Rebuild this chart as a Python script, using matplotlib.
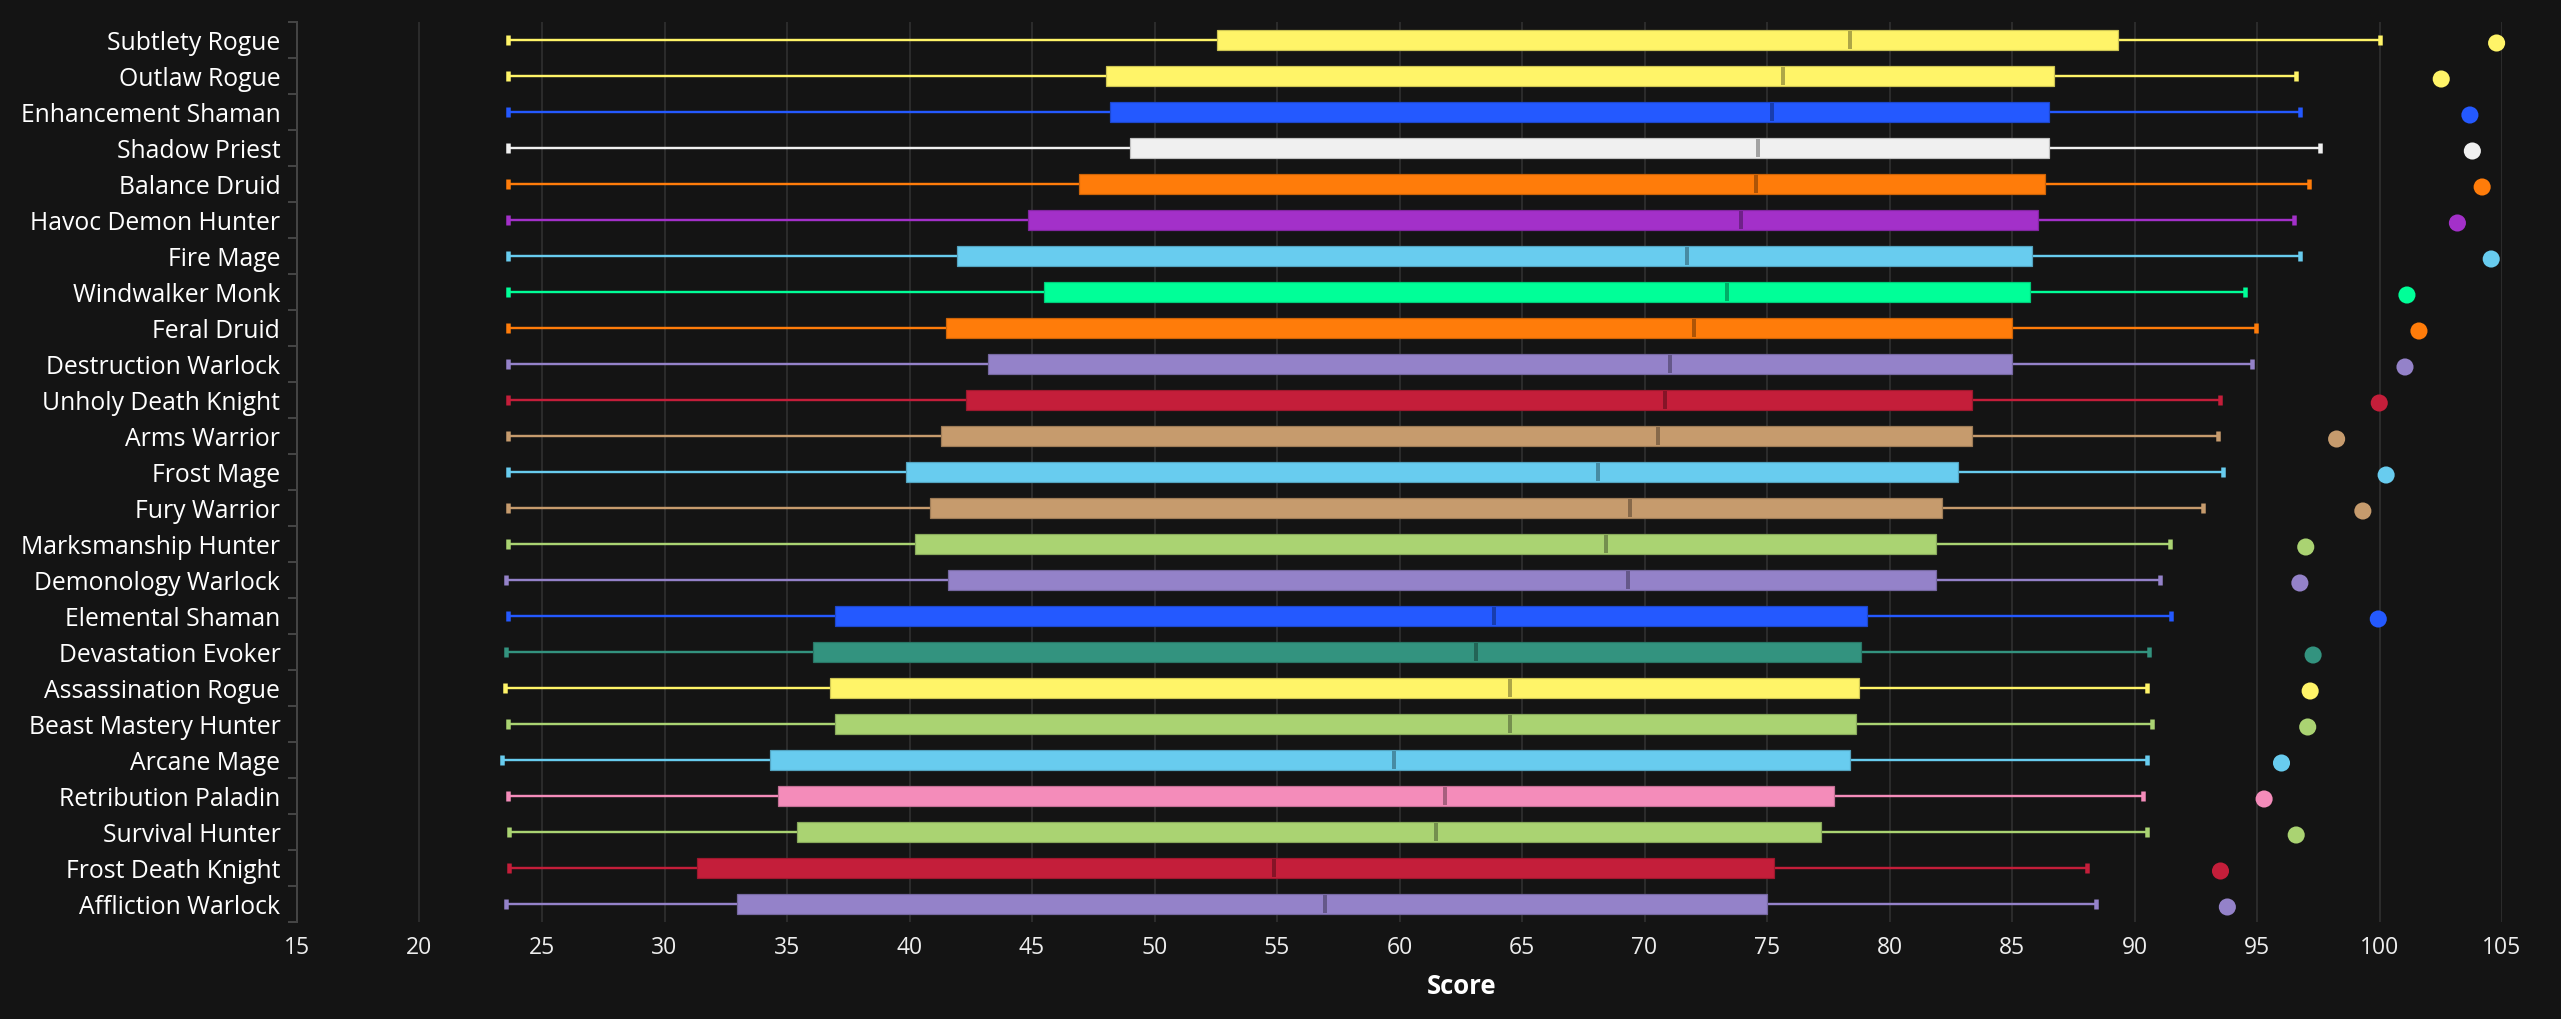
import matplotlib
matplotlib.use("Agg")
import matplotlib.pyplot as plt
import matplotlib.transforms as mtransforms
import numpy as np
from matplotlib.colors import to_rgb

specs = ["Subtlety Rogue", "Outlaw Rogue", "Enhancement Shaman", "Shadow Priest",
         "Balance Druid", "Havoc Demon Hunter", "Fire Mage", "Windwalker Monk",
         "Feral Druid", "Destruction Warlock", "Unholy Death Knight", "Arms Warrior",
         "Frost Mage", "Fury Warrior", "Marksmanship Hunter", "Demonology Warlock",
         "Elemental Shaman", "Devastation Evoker", "Assassination Rogue",
         "Beast Mastery Hunter", "Arcane Mage", "Retribution Paladin",
         "Survival Hunter", "Frost Death Knight", "Affliction Warlock"]
classes = ["rogue", "rogue", "shaman", "priest", "druid", "dh", "mage", "monk",
           "druid", "warlock", "dk", "warrior", "mage", "warrior", "hunter", "warlock",
           "shaman", "evoker", "rogue", "hunter", "mage", "paladin", "hunter", "dk",
           "warlock"]
low = [23.62, 23.62, 23.62, 23.62, 23.62, 23.62, 23.62, 23.62, 23.62, 23.62,
       23.62, 23.62, 23.62, 23.62, 23.62, 23.52, 23.62, 23.55, 23.50, 23.62,
       23.35, 23.62, 23.64, 23.64, 23.52]
q1 = [52.54, 48.01, 48.19, 49.00, 46.92, 44.84, 41.93, 45.47, 41.48, 43.21,
      42.30, 41.29, 39.85, 40.85, 40.22, 41.57, 36.96, 36.06, 36.77, 36.96,
      34.30, 34.65, 35.41, 31.33, 32.96]
median = [78.39, 75.65, 75.20, 74.65, 74.56, 73.94, 71.75, 73.38, 72.02, 71.03,
          70.84, 70.56, 68.12, 69.40, 68.41, 69.32, 63.87, 63.14, 64.51, 64.51,
          59.78, 61.87, 61.51, 54.89, 56.97]
q3 = [89.34, 86.71, 86.53, 86.53, 86.35, 86.08, 85.80, 85.72, 84.99, 84.99,
      83.35, 83.35, 82.81, 82.16, 81.91, 81.91, 79.08, 78.82, 78.74, 78.65,
      78.37, 77.74, 77.19, 75.29, 75.01]
high = [100.03, 96.59, 96.77, 97.58, 97.13, 96.50, 96.77, 94.50, 94.97, 94.78,
        93.49, 93.41, 93.61, 92.78, 91.43, 91.06, 91.51, 90.60, 90.52, 90.70,
        90.52, 90.35, 90.52, 88.07, 88.43]
best = [104.78, 102.52, 103.69, 103.79, 104.19, 103.18, 104.56, 101.12, 101.61,
        101.04, 99.99, 98.25, 100.27, 99.32, 96.99, 96.75, 99.95, 97.29, 97.17,
        97.07, 96.00, 95.29, 96.60, 93.51, 93.79]
xticks = list(range(15, 106, 5))

class_colors = {
    "rogue": "#FFF468", "shaman": "#2459FF", "priest": "#F0F0F0",
    "druid": "#FF7C0A", "dh": "#A330C9", "mage": "#68CCEF", "monk": "#00FF98",
    "warlock": "#9482C9", "dk": "#C41E3A", "warrior": "#C69B6D",
    "hunter": "#AAD372", "evoker": "#33937F", "paladin": "#F48CBA",
}

BG = "#141414"
PX = 72 / 100.0  # points per pixel at dpi 100
FONT = ["Open Sans", "DejaVu Sans"]
plt.rcParams["font.family"] = FONT

fig = plt.figure(figsize=(25.61, 10.19), dpi=100, facecolor=BG)
ax = fig.add_axes([297 / 2561, 1 - 922 / 1019, (2502 - 297) / 2561, 900 / 1019])
ax.set_facecolor(BG)

y = np.arange(len(specs))
colors = [class_colors[c] for c in classes]
edge = [tuple(np.array(to_rgb(c)) * 0.8) for c in colors]
dark = [tuple(np.array(to_rgb(c)) * 0.68) for c in colors]
q1a = np.array(q1)
q3a = np.array(q3)

# whiskers
ax.hlines(y, low, q1, colors=colors, lw=2.4 * PX, zorder=3)
ax.hlines(y, q3, high, colors=colors, lw=2.4 * PX, zorder=3)
ax.vlines(low, y - 0.14, y + 0.14, colors=colors, lw=4.5 * PX, zorder=3)
ax.vlines(high, y - 0.14, y + 0.14, colors=colors, lw=4.5 * PX, zorder=3)

# boxes
ax.barh(y, q3a - q1a, left=q1a, height=0.56, color=colors, edgecolor=edge,
        linewidth=1.2 * PX, zorder=4)
# medians
ax.vlines(median, y - 0.25, y + 0.25, colors=dark, lw=4 * PX, zorder=5)

# best points
offset = mtransforms.ScaledTranslation(0, -3 / 100.0, fig.dpi_scale_trans)
ax.scatter(best, y, s=(12.3) ** 2, c=colors, zorder=6, linewidths=0,
           transform=ax.transData + offset, clip_on=False)

ax.set_xlim(15, 105)
ax.set_ylim(len(specs) - 0.5, -0.5)
ax.set_xticks(xticks)
ax.set_xticklabels([str(t) for t in xticks])
ax.set_yticks(y)
ax.set_yticklabels(specs)
ax.set_yticks(np.arange(-0.5, len(specs), 1.0), minor=True)
ax.tick_params(axis="x", length=0, colors="#EEEEEE", labelsize=16.5, pad=10)
ax.tick_params(axis="y", which="major", length=0, labelcolor="#FFFFFF",
               labelsize=17.8, pad=12)
ax.tick_params(axis="y", which="minor", length=6.5, width=2 * PX, color="#444444")
ax.grid(axis="x", color="#333333", lw=1.5 * PX, zorder=0)
ax.set_axisbelow(True)

for s in ["top", "right", "bottom"]:
    ax.spines[s].set_visible(False)
ax.spines["left"].set_color("#444444")
ax.spines["left"].set_linewidth(2 * PX)

ax.set_xlabel("Score", color="#FFFFFF", fontsize=18.5, fontweight="bold")
ax.xaxis.label.set_verticalalignment("center")
ax.xaxis.set_label_coords(0.528, -0.072)

fig.savefig("out.png", dpi=100, facecolor=BG)
